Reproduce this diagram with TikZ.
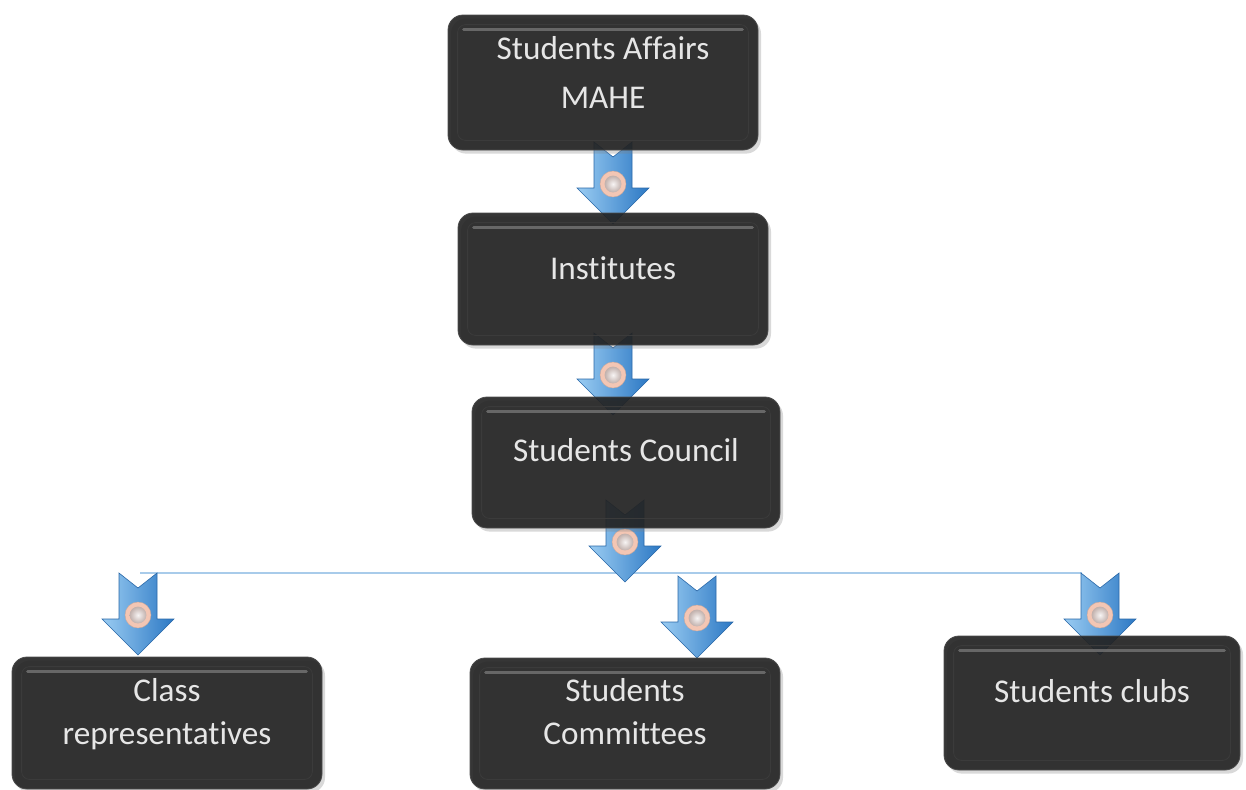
\documentclass[tikz,border=0pt]{standalone}
\usepackage{fontspec}
\setmainfont{Carlito}[Ligatures=NoCommon]
\usetikzlibrary{shadows,backgrounds}
\definecolor{boxc}{HTML}{202020}
\definecolor{hlc}{HTML}{707070}
\definecolor{txtc}{HTML}{E6E6E6}
\definecolor{arrL}{HTML}{9ACCF2}
\definecolor{arrM}{HTML}{4A96DE}
\definecolor{arrR}{HTML}{2C78C4}
\definecolor{arrD}{HTML}{2A68A8}
\definecolor{pinkc}{HTML}{F3C6B4}
\definecolor{ballc}{HTML}{CDB9B4}
\definecolor{busc}{HTML}{A8CBEA}
\tikzset{
  orgbox/.style={rectangle, rounded corners=7.5pt, fill=boxc, fill opacity=0.9,
    draw=black!70, line width=0.4pt, inner sep=0pt,
    drop shadow={shadow xshift=1.5pt, shadow yshift=-1.8pt, opacity=0.3}},
  lbl/.style={text=txtc, align=center, font=\fontsize{16.6}{21.5}\selectfont, inner sep=0pt},
  hl/.style={draw=hlc, line width=1.6pt, line cap=round, opacity=0.85},
  inner/.style={draw=white!12!boxc, line width=0.4pt, rounded corners=4pt},
  busline/.style={draw=busc, line width=1.3pt},
  chev/.pic={
    \shade[left color=arrL, middle color=arrM, right color=arrR, draw=arrD, line width=0.3pt]
      (-19,0) -- (0,15) -- (19,0) -- (19,46) -- (36,46) -- (0,82) -- (-36,46) -- (-19,46) -- cycle;
    \fill[pinkc, draw=pinkc!85!black, line width=0.2pt] (0,42) circle (6.5pt);
    \shade[inner color=white!85!ballc, outer color=ballc!85!gray] (0,42) circle (4.2pt);
  }
}
\newcommand\boxdeco[1]{%
  \draw[inner] ([xshift=5pt,yshift=-5pt]#1.north west) rectangle ([xshift=-5pt,yshift=5pt]#1.south east);
  \draw[hl] ([xshift=8pt,yshift=-7.5pt]#1.north west) -- ([xshift=-8pt,yshift=-7.5pt]#1.north east);
}
\begin{document}
\begin{tikzpicture}[x=0.5pt,y=-0.5pt]
\useasboundingbox (0,0) rectangle (1246,789);
% boxes
\node[orgbox, minimum width=155pt, minimum height=67.5pt] (top) at (603,82.5) {};
\node[orgbox, minimum width=155pt, minimum height=66pt] (inst) at (613,279) {};
\node[orgbox, minimum width=154pt, minimum height=65.5pt] (council) at (626,462.5) {};
\node[orgbox, minimum width=155pt, minimum height=66pt] (classr) at (167,723) {};
\node[orgbox, minimum width=155pt, minimum height=65.5pt] (comm) at (625,723.5) {};
\node[orgbox, minimum width=148pt, minimum height=67pt] (clubs) at (1092,703) {};
\boxdeco{top}
\boxdeco{inst}
\boxdeco{council}
\boxdeco{classr}
\boxdeco{comm}
\boxdeco{clubs}
% labels
\node[lbl, font=\fontsize{16.6}{24.5}\selectfont] (topT) at ([yshift=5pt]top.center) {Students Affairs\\MAHE};
\node[lbl] (instT) at ([yshift=5.5pt]inst.center) {Institutes};
\node[lbl] (councilT) at ([yshift=6pt]council.center) {Students Council};
\node[lbl] (classrT) at ([yshift=4.5pt]classr.center) {Class\\representatives};
\node[lbl] (commT) at ([yshift=6pt]comm.center) {Students\\Committees};
\node[lbl] (clubsT) at ([yshift=6pt]clubs.center) {Students clubs};
% connectors
\begin{scope}[on background layer]
  \coordinate (busL) at (140,573);
  \coordinate (busR) at (1082,573);
  \draw[busline] (busL) -- (busR);
  \coordinate (a1) at (613,142);
  \coordinate (a2) at (613,333);
  \coordinate (a3) at (625,500);
  \coordinate (a4) at (138,573);
  \coordinate (a5) at (697,576);
  \coordinate (a6) at (1100,573);
  \pic at (a1) {chev};
  \pic at (a2) {chev};
  \pic at (a3) {chev};
  \pic at (a4) {chev};
  \pic at (a5) {chev};
  \pic at (a6) {chev};
\end{scope}
\end{tikzpicture}
\end{document}
